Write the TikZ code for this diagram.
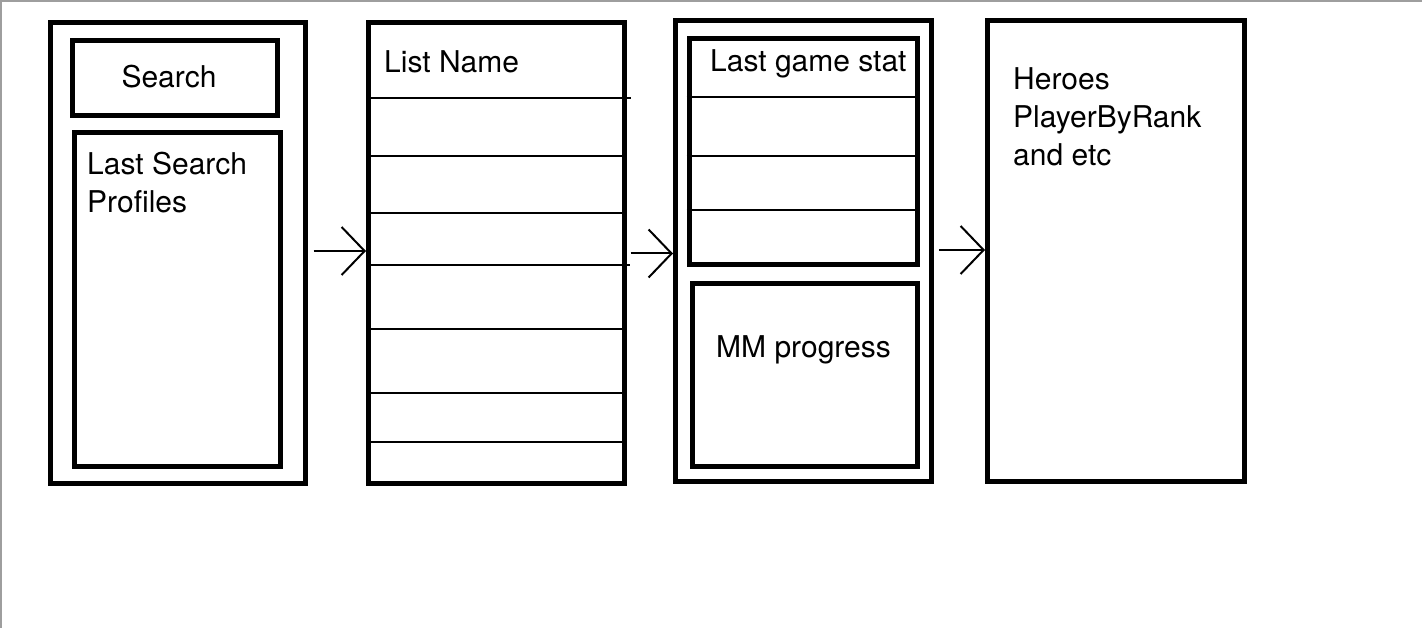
\documentclass[tikz,border=0pt]{standalone}
\usepackage{fontspec}
\setmainfont{TeX Gyre Heros}
\usetikzlibrary{arrows.meta}

\tikzset{
  frame/.style={draw, line width=5pt, inner sep=0pt},
  row/.style={line width=1.8pt},
  caption/.style={font=\fontsize{30}{38}\selectfont, inner sep=0pt, align=left},
  flow/.style={-{Straight Barb[length=23pt,width=48pt]}, line width=2pt},
}

\begin{document}
\begin{tikzpicture}[x=1pt, y=-1pt]
    \useasboundingbox (0,0) rectangle (1422,628);
    \draw[color=black!38, line width=2pt] (1,628) -- (1,1) -- (1422,1);

    % first screen
    \node[frame, minimum width=255pt, minimum height=460.5pt] (home) at (178,252.75) {};
    \node[frame, minimum width=205pt, minimum height=75pt] (search) at (175,78) {};
    \node[frame, minimum width=206.5pt, minimum height=333.5pt] (recent) at (177.25,299.25) {};
    \node[caption, anchor=base] (t1) at (169,88) {Search};
    \node[caption, anchor=base west] (t2) at (87,213) {Last Search\\Profiles};

    % second screen
    \node[frame, minimum width=256pt, minimum height=461pt] (list) at (496.5,253) {};
    \node[caption, anchor=base west] (t3) at (384,73) {List Name};
    \draw[row] (list.west |- 0,98) -- ([xshift=3.5pt]list.east |- 0,98);
    \draw[row] (list.west |- 0,265) -- ([xshift=3pt]list.east |- 0,265);
    \foreach \y in {156,213,329,393,442}
      \draw[row] (list.west |- 0,\y) -- (list.east |- 0,\y);

    % third screen
    \node[frame, minimum width=256pt, minimum height=461pt] (profile) at (803.5,251) {};
    \node[frame, minimum width=228pt, minimum height=226.5pt] (stats) at (803,151.75) {};
    \node[frame, minimum width=225pt, minimum height=182pt] (mm) at (805,375) {};
    \node[caption, anchor=base west] (t4) at (710,72) {Last game stat};
    \node[caption, anchor=base west] (t5) at (716,358) {MM progress};
    \foreach \y in {97,156,210}
      \draw[row] (stats.west |- 0,\y) -- (stats.east |- 0,\y);

    % fourth screen
    \node[frame, minimum width=256.5pt, minimum height=461pt] (heroes) at (1115.75,251) {};
    \node[caption, anchor=base west] (t6) at (1013,166) {Heroes\\PlayerByRank\\and etc};

    % transitions
    \draw[flow, shorten <=5.5pt] (home.east |- 0,251) -- (list.west |- 0,251);
    \draw[flow, shorten <=3.5pt] (list.east |- 0,253.5) -- (profile.west |- 0,253.5);
    \draw[flow, shorten <=5pt] (profile.east |- 0,250) -- (heroes.west |- 0,250);
\end{tikzpicture}
\end{document}
